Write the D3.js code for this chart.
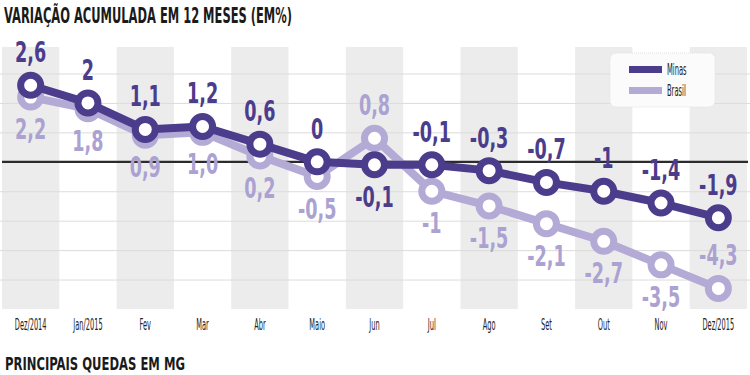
<!DOCTYPE html>
<html>
<head>
<meta charset="utf-8">
<script src="https://cdn.jsdelivr.net/npm/d3@7"></script>
<style>
  body { margin: 0; background: #fff; }
  svg { display: block; }
  text { font-family: "DejaVu Sans Condensed", "Liberation Sans Narrow", sans-serif; }
</style>
</head>
<body>
<svg width="750" height="375"></svg>
<script>
// Data
var months = ["Dez/2014", "Jan/2015", "Fev", "Mar", "Abr", "Maio", "Jun", "Jul", "Ago", "Set", "Out", "Nov", "Dez/2015"];
var minas = [2.6, 2, 1.1, 1.2, 0.6, 0, -0.1, -0.1, -0.3, -0.7, -1, -1.4, -1.9];
var brasil = [2.2, 1.8, 0.9, 1.0, 0.2, -0.5, 0.8, -1, -1.5, -2.1, -2.7, -3.5, -4.3];
var minasLabels = ["2,6", "2", "1,1", "1,2", "0,6", "0", "-0,1", "-0,1", "-0,3", "-0,7", "-1", "-1,4", "-1,9"];
var brasilLabels = ["2,2", "1,8", "0,9", "1,0", "0,2", "-0,5", "0,8", "-1", "-1,5", "-2,1", "-2,7", "-3,5", "-4,3"];
var gridTicks = [3, 2, 1, -1, -2, -3, -4];

// label flips (placement only)
var minasBelow = ["Jun"];
var brasilAbove = ["Jun", "Dez/2015"];

var minasColor = "#4b3c8c",
    brasilColor = "#b3aad6";

var svg = d3.select("svg"),
    width = +svg.attr("width"),
    height = +svg.attr("height");

// Scales
var x = d3.scaleBand()
    .domain(months)
    .range([2, 747])
    .padding(0);

var y = d3.scaleLinear()
    .domain([-5, 3.9])
    .range([309, 47]);

var cx = function(d, i) { return x(months[i]) + x.bandwidth() / 2; };

// Alternating grey columns
svg.append("g")
    .selectAll("rect")
    .data(months.filter(function(d, i) { return i % 2 === 0; }))
    .enter()
    .append("rect")
    .attr("x", function(d) { return x(d); })
    .attr("y", y(3.9))
    .attr("width", x.bandwidth())
    .attr("height", y(-5) - y(3.9))
    .attr("fill", "#ececec");

// Horizontal gridlines
var grid = svg.append("g")
    .call(d3.axisLeft(y).tickValues(gridTicks).tickSize(-width).tickFormat(""));
grid.select(".domain").remove();
grid.selectAll(".tick line").attr("stroke", "#dcdcdc").attr("stroke-width", 1);

// Zero line
svg.append("line")
    .attr("x1", 2).attr("x2", 748)
    .attr("y1", y(0)).attr("y2", y(0))
    .attr("stroke", "#2b2b2b")
    .attr("stroke-width", 2.2);

// X axis labels
var xAxis = svg.append("g")
    .attr("transform", "translate(0,313)")
    .call(d3.axisBottom(x).tickSize(0).tickPadding(6));
xAxis.select(".domain").remove();
xAxis.selectAll("text")
    .attr("font-family", "DejaVu Sans Condensed")
    .attr("font-size", 16)
    .attr("fill", "#222")
    .attr("transform", "scale(0.46,1)");

// Lines
var line = d3.line()
    .x(cx)
    .y(function(d) { return y(d); });

function drawSeries(values, color) {
    var g = svg.append("g");
    g.append("path")
        .datum(values)
        .attr("d", line)
        .attr("fill", "none")
        .attr("stroke", color)
        .attr("stroke-width", 8)
        .attr("stroke-linejoin", "round");
    g.selectAll("circle")
        .data(values)
        .enter()
        .append("circle")
        .attr("cx", cx)
        .attr("cy", function(d) { return y(d); })
        .attr("r", 10)
        .attr("fill", "#fff")
        .attr("stroke", color)
        .attr("stroke-width", 7);
}

drawSeries(brasil, brasilColor);
drawSeries(minas, minasColor);

// Value labels (condensed by a horizontal scale)
function drawLabels(values, labels, color, flip, defaultAbove) {
    svg.append("g")
        .selectAll("text")
        .data(values)
        .enter()
        .append("text")
        .attr("transform", function(d, i) {
            var above = flip.indexOf(months[i]) >= 0 ? !defaultAbove : defaultAbove;
            var ty = above ? y(d) - 23 : y(d) + 42;
            return "translate(" + cx(d, i) + "," + ty + ") scale(0.7,1)";
        })
        .attr("text-anchor", "middle")
        .attr("font-size", 28)
        .attr("font-weight", "bold")
        .attr("fill", color)
        .text(function(d, i) { return labels[i]; });
}

drawLabels(brasil, brasilLabels, "#aba2d2", brasilAbove, false);
drawLabels(minas, minasLabels, minasColor, minasBelow, true);

// Legend
var legend = svg.append("g").attr("transform", "translate(610,53)");
legend.append("rect")
    .attr("width", 105)
    .attr("height", 54)
    .attr("rx", 6)
    .attr("fill", "#fbfbfb")
    .attr("stroke", "#e2e2e2")
    .attr("stroke-dasharray", "1,1");
[["Minas", minasColor], ["Brasil", brasilColor]].forEach(function(d, i) {
    legend.append("rect")
        .attr("x", 19)
        .attr("y", 13 + i * 21)
        .attr("width", 33)
        .attr("height", 7)
        .attr("fill", d[1]);
    legend.append("text")
        .attr("transform", "translate(57," + (22 + i * 21) + ") scale(0.5,1)")
        .attr("font-size", 15)
        .attr("fill", "#222")
        .text(d[0]);
});

// Titles
svg.append("text")
    .attr("x", 4)
    .attr("y", 23)
    .attr("font-size", 21)
    .attr("font-weight", "bold")
    .attr("fill", "#1a1a1a")
    .attr("textLength", 288)
    .attr("lengthAdjust", "spacingAndGlyphs")
    .text("VARIAÇÃO ACUMULADA EM 12 MESES (EM%)");

svg.append("text")
    .attr("x", 5)
    .attr("y", 370)
    .attr("font-size", 18)
    .attr("font-weight", "bold")
    .attr("fill", "#1a1a1a")
    .attr("textLength", 180)
    .attr("lengthAdjust", "spacingAndGlyphs")
    .text("PRINCIPAIS QUEDAS EM MG");
</script>
</body>
</html>
